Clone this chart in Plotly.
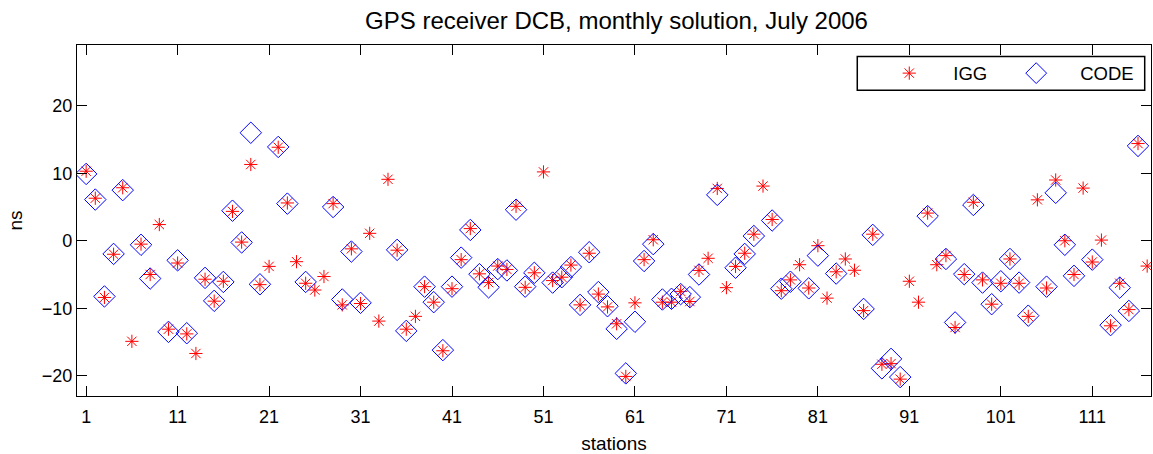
import plotly.graph_objects as go

stations = list(range(1, 118))

igg = [10.3, 6.3, -8.4, -2.0, 7.85, -14.9, -0.5, -5.0, 2.4, -13.1,
       -3.3, -13.8, -16.7, -5.7, -8.95, -6.0, 4.35, -0.2, 11.3, -6.5,
       -3.8, 13.85, 5.6, -3.1, -6.3, -7.3, -5.3, 5.5, -9.5, -1.2,
       -9.3, 1.1, -11.9, 9.1, -1.4, -13.1, -11.2, -6.8, -9.1, -16.3,
       -7.1, -2.8, 1.8, -4.9, -6.2, -3.75, -4.25, 5.1, -6.9, -4.75,
       10.2, -5.9, -5.4, -3.6, -9.5, -1.85, -7.9, -9.8, -12.3, -20.1,
       -9.2, -2.8, 0.15, -9.1, -9.1, -7.5, -9.0, -4.4, -2.6, 7.75,
       -6.95, -3.8, -1.85, 0.97, 8.1, 3.15, -7.4, -5.8, -3.55, -7.0,
       -0.73, -8.5, -4.6, -2.7, -4.37, -10.35, 0.97, -18.3, -18.2, -20.5,
       -6.0, -9.1, 4.1, -3.55, -2.2, -12.85, -5.0, 5.7, -5.8, -9.4,
       -6.3, -2.7, -6.3, -11.2, 6.06, -7.0, 9.0, 0.0, -5.0, 7.8,
       -3.15, 0.1, -12.6, -6.3, -10.2, 14.4, -3.75]

code = [9.9, 6.1, -8.25, -1.95, 7.5, None, -0.6, -5.6, None, -13.5,
        -2.9, -13.7, None, -5.5, -8.9, -6.1, 4.45, -0.25, 16.0, -6.45,
        None, 13.9, 5.5, None, -6.1, None, None, 5.0, -8.7, -1.6,
        -9.2, None, None, None, -1.35, -13.35, None, -6.8, -9.1, -16.2,
        -6.8, -2.5, 1.6, -4.95, -6.9, -4.2, -4.4, 4.6, -6.8, -4.75,
        None, -6.2, -5.4, -3.9, -9.5, -1.7, -7.6, -9.7, -13.05, -19.65,
        -12.0, -3.0, -0.5, -8.7, -8.6, -7.9, -8.35, -5.0, None, 6.8,
        None, -4.0, -1.95, 0.7, None, 3.0, -7.1, -6.07, None, -7.05,
        -2.2, None, -4.86, None, None, -10.1, 0.87, -18.9, -17.5, -20.2,
        None, None, 3.65, None, -2.7, -12.1, -4.95, 5.3, -6.2, -9.4,
        -6.0, -2.7, -6.2, -11.1, None, -6.8, 7.1, -0.6, -5.2, None,
        -2.8, None, -12.5, -6.95, -10.4, 14.05, None]

x_ticks = list(range(1, 112, 10))
y_ticks = [-20, -10, 0, 10, 20]

FONT = "Liberation Sans, Arial, Helvetica, sans-serif"

fig = go.Figure()
fig.add_trace(go.Scatter(
    x=stations, y=igg, mode="markers", name="IGG",
    marker=dict(symbol="asterisk-open", size=11, color="#ff0000",
                line=dict(color="#ff0000", width=1)),
))
fig.add_trace(go.Scatter(
    x=stations, y=code, mode="markers", name="CODE",
    marker=dict(symbol="diamond-open", size=16.5, color="#0000ff",
                line=dict(color="#0000ff", width=1)),
))

L, R, T, B = 77, 1, 45, 53
W, H = 1153, 454
pw = W - L - R
ph = H - T - B

def px_x(p):
    return (p - L) / pw

def px_y(p):
    return (H - B - p) / ph

axis_common = dict(
    showgrid=False, zeroline=False, showline=True, linecolor="black",
    linewidth=1.3, mirror="ticks", ticks="inside", ticklen=10,
    tickcolor="black", tickwidth=1,
    tickfont=dict(family=FONT, size=18, color="black"),
)

fig.update_layout(
    width=W, height=H,
    margin=dict(l=L, r=R, t=T, b=B, pad=0),
    paper_bgcolor="white", plot_bgcolor="white",
    font=dict(family=FONT, color="black"),
    title=dict(text="GPS receiver DCB, monthly solution, July 2006",
               x=px_x(617), xanchor="center", xref="paper",
               y=1 - 21 / H, yanchor="middle", yref="container",
               font=dict(family=FONT, size=24, color="black")),
    xaxis=dict(range=[0, 117.42], tickvals=x_ticks,
               ticktext=[str(v) for v in x_ticks],
               ticklabelstandoff=4,
               title=dict(text="stations", standoff=13,
                          font=dict(family=FONT, size=19, color="black")),
               **axis_common),
    yaxis=dict(range=[-23, 29], tickvals=y_ticks,
               title=dict(text="ns", standoff=14,
                          font=dict(family=FONT, size=19, color="black")),
               **axis_common),
    showlegend=True,
    legend=dict(orientation="h", x=px_x(866), xanchor="left",
                y=px_y(74), yanchor="middle",
                bgcolor="rgba(0,0,0,0)", borderwidth=0,
                itemwidth=78,
                font=dict(family=FONT, size=18.5, color="black")),
    shapes=[dict(type="rect", xref="paper", yref="paper",
                 x0=px_x(858), x1=px_x(1145.7), y0=px_y(91), y1=px_y(56.7),
                 line=dict(color="black", width=1.5), fillcolor="rgba(0,0,0,0)")],
)

fig.write_html("out.html",
               config={"displayModeBar": False},
               post_script="document.body.style.margin='0';document.body.style.padding='0';")
